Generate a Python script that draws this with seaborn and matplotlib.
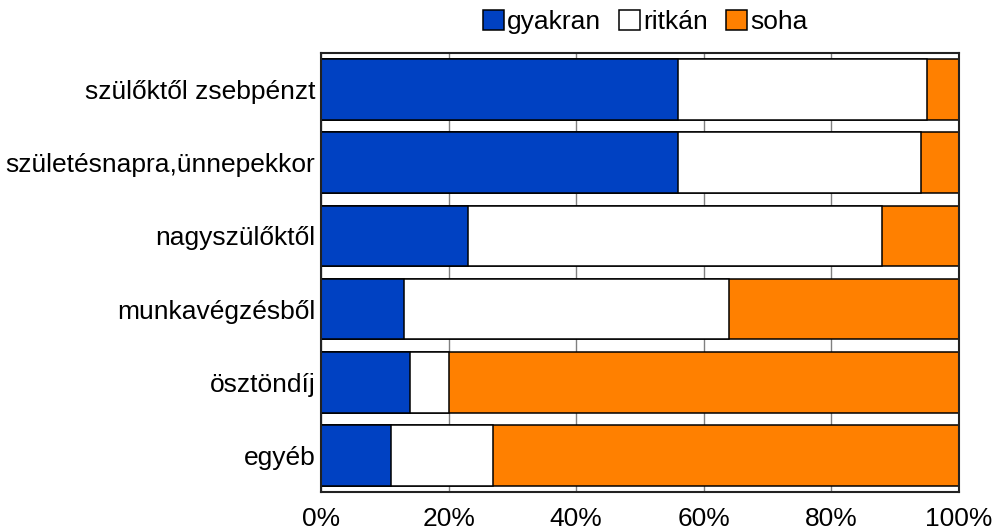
import matplotlib
matplotlib.use("Agg")
import matplotlib.pyplot as plt
import seaborn as sns
import pandas as pd
import numpy as np
from matplotlib.patches import Patch
from matplotlib.ticker import FuncFormatter

categories = ["szülőktől zsebpénzt", "születésnapra,ünnepekkor", "nagyszülőktől",
              "munkavégzésből", "ösztöndíj", "egyéb"]
gyakran = [56, 56, 23, 13, 14, 11]
ritkan = [39, 38, 65, 51, 6, 16]
soha = [5, 6, 12, 36, 80, 73]
series_names = ["gyakran", "ritkán", "soha"]
colors = ["#0041C2", "#FFFFFF", "#FF8000"]
x_ticks = [0, 20, 40, 60, 80, 100]

sns.set_theme(style="white")
plt.rcParams["font.family"] = ["Liberation Sans", "DejaVu Sans"]
plt.rcParams["text.color"] = "black"

df = pd.DataFrame({"cat": categories, "gyakran": gyakran, "ritkán": ritkan, "soha": soha})
df["c1"] = df["gyakran"]
df["c2"] = df["gyakran"] + df["ritkán"]
df["c3"] = df["c2"] + df["soha"]

fig = plt.figure(figsize=(9.97, 5.32), dpi=100)
ax = fig.add_axes([321 / 997, 1 - 492 / 532, (959 - 321) / 997, (492 - 53) / 532])

# stacked bars: draw cumulative totals from the outermost segment inwards
for col, color in zip(["c3", "c2", "c1"], colors[::-1]):
    sns.barplot(data=df, x=col, y="cat", order=categories, orient="h", color=color,
                width=0.83, edgecolor="black", linewidth=1.1, saturation=1, ax=ax, zorder=2)

ax.set_xlim(0, 100)
ax.set_ylim(5.5, -0.5)
ax.set_xticks(x_ticks)
ax.xaxis.set_major_formatter(FuncFormatter(lambda v, p: f"{int(v)}%"))
ax.set_xlabel("")
ax.set_ylabel("")
ax.grid(axis="x", color="#808080", linewidth=1.0, zorder=0)
ax.set_axisbelow(True)
ax.tick_params(axis="x", length=0, pad=11, labelsize=19, colors="black")
ax.tick_params(axis="y", length=0, pad=4, labelsize=19, colors="black")
for s in ax.spines.values():
    s.set_color("#222222")
    s.set_linewidth(1.5)

handles = [Patch(facecolor=c, edgecolor="black", linewidth=1.1, label=n)
           for n, c in zip(series_names, colors)]
fig.legend(handles=handles, loc="center", bbox_to_anchor=(645 / 997, 1 - 22 / 532), ncol=3,
           frameon=False, fontsize=19, handlelength=0.8, handleheight=0.8,
           handletextpad=0.1, columnspacing=0.7, borderpad=0, labelcolor="black")

fig.savefig("out.png", dpi=100)
